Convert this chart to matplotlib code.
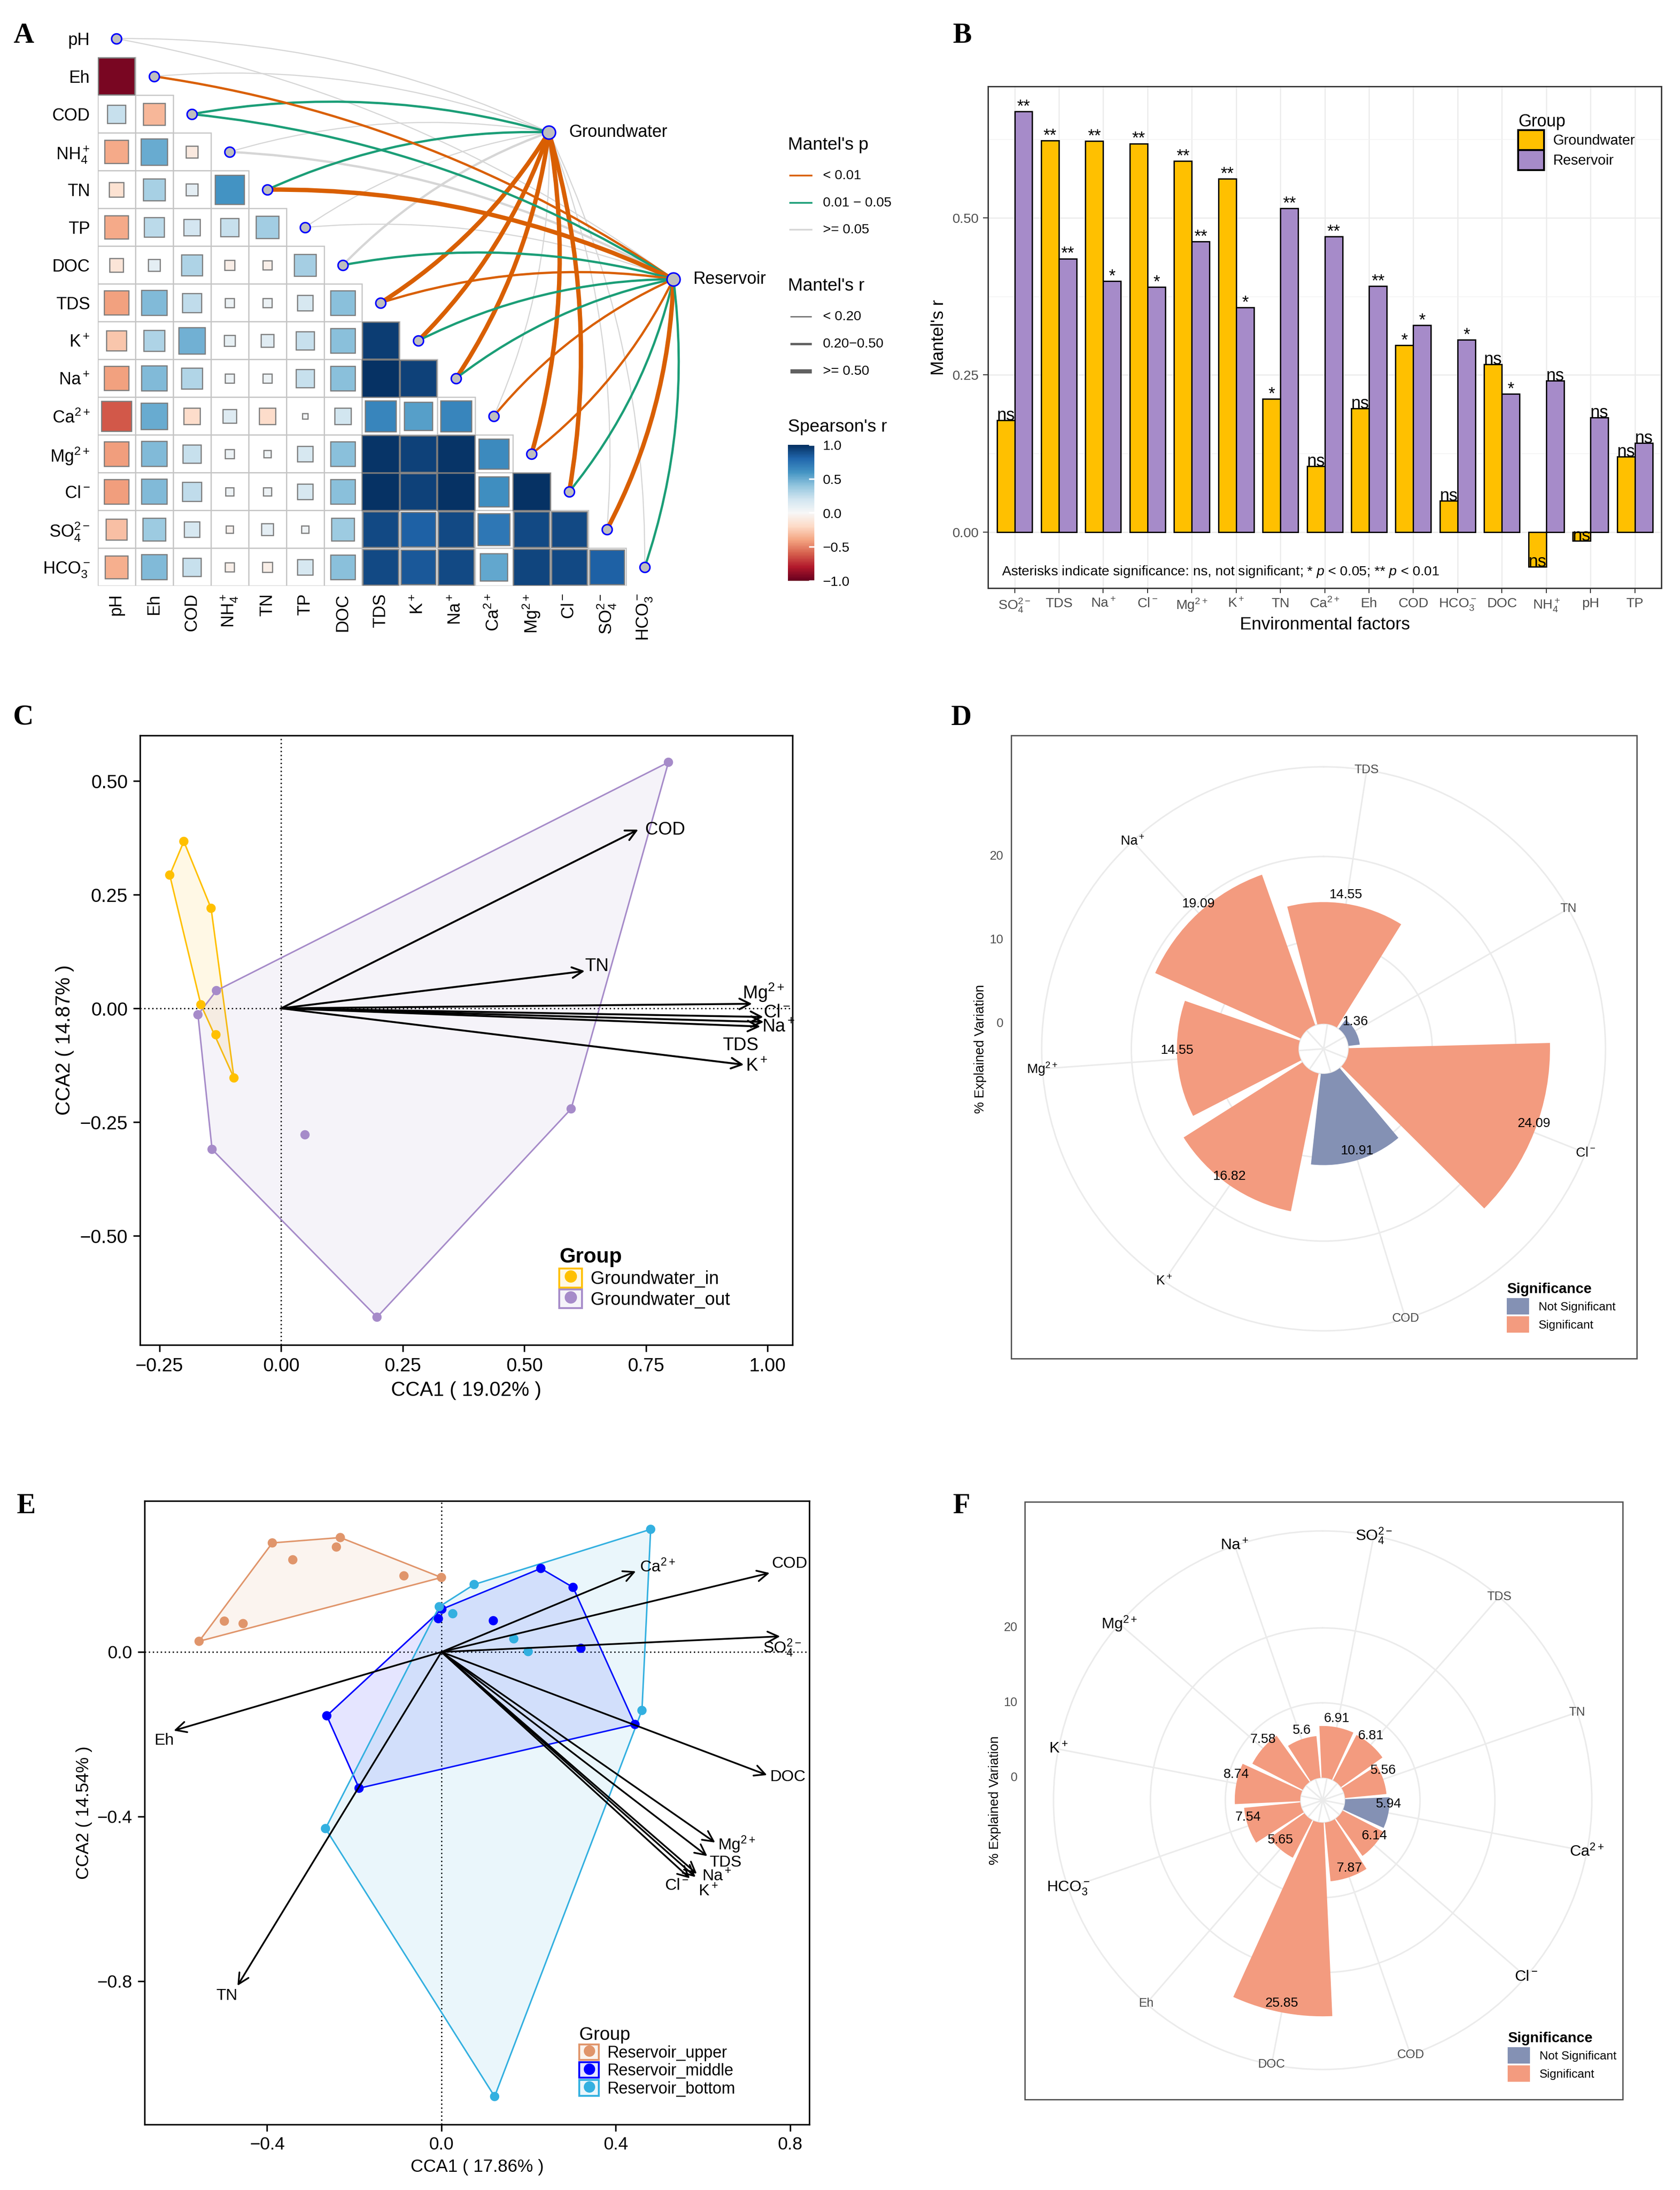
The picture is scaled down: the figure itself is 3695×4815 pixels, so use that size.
import numpy as np
import matplotlib
matplotlib.use('Agg')
import matplotlib.pyplot as plt
import matplotlib.colors as mcolors
from matplotlib.patches import Rectangle, Patch, PathPatch, Polygon
from matplotlib.path import Path
from matplotlib.lines import Line2D
from matplotlib.ticker import FuncFormatter, FixedLocator

plt.rcParams['font.family'] = ['Liberation Sans', 'DejaVu Sans']
plt.rcParams['mathtext.fontset'] = 'custom'
plt.rcParams['mathtext.rm'] = 'Liberation Sans'
plt.rcParams['mathtext.it'] = 'Liberation Sans:italic'
plt.rcParams['mathtext.bf'] = 'Liberation Sans:bold'
plt.rcParams['mathtext.sf'] = 'Liberation Sans'

W, H, DPI = 3695, 4815, 300

#**************** labels ****************#
tex = {'pH': 'pH', 'Eh': 'Eh', 'COD': 'COD', 'NH4': 'NH$_4^+$', 'TN': 'TN', 'TP': 'TP',
       'DOC': 'DOC', 'TDS': 'TDS', 'K': 'K$^+$', 'Na': 'Na$^+$', 'Ca': 'Ca$^{2+}$',
       'Mg': 'Mg$^{2+}$', 'Cl': 'Cl$^-$', 'SO4': 'SO$_4^{2-}$', 'HCO3': 'HCO$_3^-$'}

#**************** A: Spearman (lower triangle) ****************#
env_a = ['pH', 'Eh', 'COD', 'NH4', 'TN', 'TP', 'DOC', 'TDS', 'K', 'Na', 'Ca', 'Mg', 'Cl', 'SO4', 'HCO3']
spearman_rows = [
    [],
    [-0.95],
    [0.23, -0.33],
    [-0.38, 0.50, -0.10],
    [-0.15, 0.33, 0.10, 0.60],
    [-0.38, 0.27, 0.18, 0.23, 0.35],
    [-0.13, 0.10, 0.31, -0.07, -0.06, 0.34],
    [-0.41, 0.44, 0.25, 0.06, 0.06, 0.17, 0.42],
    [-0.28, 0.31, 0.48, 0.08, 0.12, 0.23, 0.42, 0.95],
    [-0.41, 0.44, 0.30, 0.06, 0.06, 0.23, 0.42, 0.99, 0.93],
    [-0.62, 0.50, -0.18, 0.13, -0.18, 0.02, 0.19, 0.66, 0.55, 0.66],
    [-0.42, 0.44, 0.23, 0.06, 0.04, 0.17, 0.42, 0.98, 0.93, 0.98, 0.64],
    [-0.42, 0.44, 0.25, 0.05, 0.05, 0.17, 0.42, 0.99, 0.93, 0.99, 0.62, 0.99],
    [-0.30, 0.36, 0.17, -0.04, 0.10, 0.04, 0.36, 0.90, 0.82, 0.90, 0.72, 0.90, 0.90],
    [-0.36, 0.44, 0.23, -0.06, -0.07, 0.17, 0.42, 0.90, 0.85, 0.90, 0.52, 0.92, 0.90, 0.82],
]

#**************** B: Mantel test ****************#
factors_b = ['SO4', 'TDS', 'Na', 'Cl', 'Mg', 'K', 'TN', 'Ca', 'Eh', 'COD', 'HCO3', 'DOC', 'NH4', 'pH', 'TP']
mantel_gw = [0.178, 0.623, 0.622, 0.618, 0.590, 0.562, 0.212, 0.105, 0.197, 0.297, 0.050, 0.267, -0.055, -0.014, 0.120]
mantel_res = [0.669, 0.435, 0.399, 0.390, 0.462, 0.357, 0.515, 0.470, 0.391, 0.329, 0.306, 0.220, 0.241, 0.182, 0.142]
sig_gw = ['ns', '**', '**', '**', '**', '**', '*', 'ns', 'ns', '*', 'ns', 'ns', 'ns', 'ns', 'ns']
sig_res = ['**', '**', '*', '*', '**', '*', '**', '**', '**', '*', '*', '*', 'ns', 'ns', 'ns']

#**************** C: CCA groundwater ****************#
gw_in_x = [-0.200, -0.229, -0.144, -0.165, -0.134, -0.097]
gw_in_y = [0.367, 0.293, 0.220, 0.008, -0.058, -0.153]
gw_out_x = [0.796, -0.133, -0.171, -0.142, 0.049, 0.596, 0.197]
gw_out_y = [0.541, 0.039, -0.014, -0.310, -0.278, -0.221, -0.679]
env_c = ['COD', 'TN', 'Mg', 'Cl', 'Na', 'TDS', 'K']
env_c_x = [0.734, 0.624, 0.968, 0.991, 0.992, 0.985, 0.951]
env_c_y = [0.393, 0.082, 0.010, -0.019, -0.030, -0.040, -0.124]

#**************** D: explained variation groundwater ****************#
env_d = ['Cl', 'COD', 'K', 'Mg', 'Na', 'TDS', 'TN']
var_d = [24.09, 10.91, 16.82, 14.55, 19.09, 14.55, 1.36]
sig_d = [True, False, True, True, True, True, False]

#**************** E: CCA reservoir ****************#
up_x = [-0.388, -0.232, -0.241, -0.341, -0.086, 0.000, -0.498, -0.455, -0.556]
up_y = [0.265, 0.278, 0.255, 0.224, 0.185, 0.181, 0.075, 0.069, 0.026]
mid_x = [0.228, 0.302, 0.001, -0.007, 0.119, 0.320, 0.444, -0.263, -0.189]
mid_y = [0.203, 0.157, 0.104, 0.081, 0.076, 0.009, -0.176, -0.155, -0.331]
bot_x = [0.480, 0.075, -0.005, 0.026, 0.166, 0.199, 0.460, -0.266, 0.122]
bot_y = [0.298, 0.164, 0.110, 0.093, 0.032, 0.001, -0.142, -0.429, -1.080]
env_e = ['Ca', 'COD', 'SO4', 'DOC', 'Mg', 'TDS', 'Na', 'K', 'Cl', 'Eh', 'TN']
env_e_x = [0.446, 0.753, 0.777, 0.747, 0.628, 0.610, 0.586, 0.583, 0.570, -0.614, -0.468]
env_e_y = [0.196, 0.192, 0.038, -0.299, -0.463, -0.496, -0.539, -0.547, -0.550, -0.191, -0.811]

#**************** F: explained variation reservoir ****************#
env_f = ['Ca', 'Cl', 'COD', 'DOC', 'Eh', 'HCO3', 'K', 'Mg', 'Na', 'SO4', 'TDS', 'TN']
var_f = [5.94, 6.14, 7.87, 25.85, 5.65, 7.54, 8.74, 7.58, 5.6, 6.91, 6.81, 5.56]
sig_f = [False, True, True, True, True, True, True, True, True, True, True, True]

# colours
c_gw, c_res = '#FFC000', '#A68BC9'
c_up, c_mid, c_bot = '#E0956B', '#0000FF', '#33B0E0'
c_ns, c_sig = '#8491B4', '#F39B7F'
p_cols = {'**': '#D95F02', '*': '#1B9E77', 'ns': '#D6D6D6'}

fig = plt.figure(figsize=((W + 0.1) / DPI, (H + 0.1) / DPI), dpi=DPI)


def box(x0, y0, x1, y1):
    return [x0 / W, 1 - y1 / H, (x1 - x0) / W, (y1 - y0) / H]


def fy(y):
    return 1 - y / H


def minus_fmt(fmt):
    return FuncFormatter(lambda v, p: (fmt % v).replace('-', '\u2212'))


def hull(xs, ys):
    pts = sorted(set(zip(xs, ys)))

    def cross(o, a, b):
        return (a[0] - o[0]) * (b[1] - o[1]) - (a[1] - o[1]) * (b[0] - o[0])
    lower, upper = [], []
    for p in pts:
        while len(lower) >= 2 and cross(lower[-2], lower[-1], p) <= 0:
            lower.pop()
        lower.append(p)
    for p in reversed(pts):
        while len(upper) >= 2 and cross(upper[-2], upper[-1], p) <= 0:
            upper.pop()
        upper.append(p)
    return lower[:-1] + upper[:-1]


def panel_letter(x, y, s):
    fig.text(x / W, fy(y), s, family='Liberation Serif', weight='bold', fontsize=15,
             ha='center', va='center')

#==================== A ====================#
CELL = 83
x_left, y_top = 256 - CELL / 2, 85 - CELL / 2
n_a = len(env_a)
ax_a = fig.add_axes(box(x_left, y_top, x_left + n_a * CELL, y_top + n_a * CELL))
ax_a.set_xlim(-0.5, n_a - 0.5)
ax_a.set_ylim(n_a - 0.5, -0.5)
cmap = plt.get_cmap('RdBu')
norm = mcolors.Normalize(-1, 1)
for r, row in enumerate(spearman_rows):
    for c, v in enumerate(row):
        ax_a.add_patch(Rectangle((c - 0.5, r - 0.5), 1, 1, fc='white', ec='#C4C4C4', lw=0.6, zorder=1))
        s = np.sqrt(abs(v))
        ax_a.add_patch(Rectangle((c - s / 2, r - s / 2), s, s, fc=cmap(norm(v)), ec='#7A7A7A',
                                 lw=0.6, zorder=2))
ax_a.set_xticks(range(n_a))
ax_a.set_xticklabels([tex[e] for e in env_a], rotation=90, fontsize=9)
ax_a.set_yticks(range(n_a))
ax_a.set_yticklabels([tex[e] for e in env_a], fontsize=9)
ax_a.tick_params(length=0, pad=4)
for sp in ax_a.spines.values():
    sp.set_visible(False)

nodes = {'Groundwater': (11.46, 2.48), 'Reservoir': (14.76, 6.37)}


def width_of(r):
    return 0.6 if r < 0.2 else (1.2 if r < 0.5 else 2.3)


def curve(p0, p1, color, lw, z):
    p0 = np.array(p0, float)
    p1 = np.array(p1, float)
    d = p1 - p0
    L = np.hypot(d[0], d[1])
    nv = np.array([-d[1], d[0]]) / L
    if nv @ np.array([1.0, -1.0]) < 0:
        nv = -nv
    ctrl = (p0 + p1) / 2 + 0.115 * L * nv
    ax_a.add_patch(PathPatch(Path([p0, ctrl, p1], [Path.MOVETO, Path.CURVE3, Path.CURVE3]),
                             fc='none', ec=color, lw=lw, zorder=z, clip_on=False))


for grp, vals, sigs in [('Groundwater', mantel_gw, sig_gw), ('Reservoir', mantel_res, sig_res)]:
    for i, e in enumerate(env_a):
        k = factors_b.index(e)
        z = 3 if sigs[k] == 'ns' else 4
        curve((i, i), nodes[grp], p_cols[sigs[k]], width_of(vals[k]), z)

ax_a.scatter(range(n_a), range(n_a), s=28, c='#BEBEBE', edgecolors='#0000FF', linewidths=0.8,
             zorder=6, clip_on=False)
for grp, (gx, gy) in nodes.items():
    ax_a.scatter([gx], [gy], s=48, c='#BEBEBE', edgecolors='#0000FF', linewidths=0.8, zorder=6,
                 clip_on=False)
    ax_a.annotate(grp, xy=(gx, gy), xytext=(10.5, 0), textcoords='offset points', ha='left',
                  va='center', fontsize=9, annotation_clip=False)

# legends of A
fig.text(1733 / W, fy(319), "Mantel's p", fontsize=9.4, va='center')
for yy, key, lab in [(386, '**', '< 0.01'), (446, '*', '0.01 \u2212 0.05'), (505, 'ns', '>= 0.05')]:
    fig.add_artist(Line2D([1738 / W, 1785 / W], [fy(yy), fy(yy)], color=p_cols[key], lw=0.9,
                          transform=fig.transFigure))
    fig.text(1810 / W, fy(yy), lab, fontsize=7.2, va='center')
fig.text(1733 / W, fy(629), "Mantel's r", fontsize=9.4, va='center')
for yy, lw, lab in [(696, 0.6, '< 0.20'), (756, 1.2, '0.20\u22120.50'), (816, 2.2, '>= 0.50')]:
    fig.add_artist(Line2D([1738 / W, 1785 / W], [fy(yy), fy(yy)], color='#606060', lw=lw,
                          transform=fig.transFigure, solid_capstyle='butt'))
    fig.text(1810 / W, fy(yy), lab, fontsize=7.2, va='center')
fig.text(1733 / W, fy(939), "Spearson's r", fontsize=9.4, va='center')
cax = fig.add_axes(box(1733, 978, 1791, 1277))
cb = fig.colorbar(plt.cm.ScalarMappable(norm=norm, cmap=cmap), cax=cax, ticks=[-1, -0.5, 0, 0.5, 1])
cb.set_ticklabels(['\u22121.0', '\u22120.5', '0.0', '0.5', '1.0'])
cb.outline.set_visible(False)
cax.tick_params(direction='in', length=3, color='white', width=0.8, labelsize=7.2, pad=4.5)

#==================== B ====================#
ax_b = fig.add_axes(box(2173, 190, 3654, 1293))
xb = np.arange(len(factors_b))
ax_b.bar(xb - 0.2, mantel_gw, 0.4, color=c_gw, ec='black', lw=0.7, zorder=3)
ax_b.bar(xb + 0.2, mantel_res, 0.4, color=c_res, ec='black', lw=0.7, zorder=3)
for xs, vals, sigs in [(xb - 0.2, mantel_gw, sig_gw), (xb + 0.2, mantel_res, sig_res)]:
    for x, v, s in zip(xs, vals, sigs):
        ax_b.text(x, v, s, ha='center', va='baseline', fontsize=9, zorder=4)
ax_b.set_xlim(-0.6, len(factors_b) - 0.4)
ax_b.set_ylim(-0.089, 0.709)
ax_b.set_xticks(xb)
ax_b.set_xticklabels([tex[f] for f in factors_b])
ax_b.set_yticks([0, 0.25, 0.5])
ax_b.yaxis.set_major_formatter(minus_fmt('%.2f'))
ax_b.yaxis.set_minor_locator(FixedLocator([0.125, 0.375, 0.625]))
ax_b.set_axisbelow(True)
ax_b.grid(True, which='major', color='#EBEBEB', lw=0.6)
ax_b.grid(True, which='minor', axis='y', color='#F2F2F2', lw=0.35)
ax_b.tick_params(which='major', labelsize=7.2, labelcolor='#4D4D4D', color='#333333', length=2.75,
                 width=0.5, pad=2)
ax_b.tick_params(which='minor', length=0)
for sp in ax_b.spines.values():
    sp.set_color('#333333')
    sp.set_linewidth(0.7)
ax_b.set_ylabel("Mantel's r", fontsize=9.3, labelpad=3)
ax_b.set_xlabel('Environmental factors', fontsize=9.3, labelpad=1.5)
ax_b.text(0.02, 0.033, 'Asterisks indicate significance: ns, not significant; * $p$ < 0.05; ** $p$ < 0.01',
          transform=ax_b.transAxes, fontsize=7.3, ha='left', va='center')
ax_b.legend(handles=[Patch(fc=c_gw, ec='black', lw=1.0), Patch(fc=c_res, ec='black', lw=1.0)],
            labels=['Groundwater', 'Reservoir'], title='Group', loc='upper left',
            bbox_to_anchor=(3339 / W, fy(250)), bbox_transform=fig.transFigure, frameon=False,
            fontsize=7.5, title_fontsize=9, alignment='left', handlelength=1.83, handleheight=1.79,
            labelspacing=0.0, handletextpad=0.6, borderpad=0, borderaxespad=0)

#==================== C and E (CCA) ====================#


def cca_panel(ax, groups, env, ex, ey, offs, fs_lab, arrow_lw):
    for xs, ys, col in groups:
        h = hull(xs, ys)
        ax.add_patch(Polygon(h, closed=True, fc=mcolors.to_rgba(col, 0.1), ec=col, lw=0.8, zorder=2))
    for xs, ys, col in groups:
        ax.scatter(xs, ys, s=24, color=col, edgecolors='none', zorder=3)
    ax.axvline(0, color='black', ls=(0, (1, 2)), lw=0.7, zorder=1)
    ax.axhline(0, color='black', ls=(0, (1, 2)), lw=0.7, zorder=1)
    for e, x, y in zip(env, ex, ey):
        ax.annotate('', xy=(x, y), xytext=(0, 0),
                    arrowprops=dict(arrowstyle='->,head_length=0.4,head_width=0.2', lw=arrow_lw,
                                    color='black', shrinkA=0, shrinkB=0, mutation_scale=14), zorder=4)
        ha, dx, dy = offs[e]
        ax.annotate(tex[e], xy=(x, y), xytext=(dx, dy), textcoords='offset points', ha=ha,
                    va='center', fontsize=fs_lab, zorder=5)
    for sp in ax.spines.values():
        sp.set_color('black')
        sp.set_linewidth(0.8)


panel_letter(52, 79, 'A')
panel_letter(2117, 79, 'B')
panel_letter(52, 1577, 'C')
panel_letter(2114, 1579, 'D')
panel_letter(58, 3312, 'E')
panel_letter(2115, 3312, 'F')

ax_c = fig.add_axes(box(308, 1617, 1743, 2957))
offs_c = {'COD': ('left', 3.6, 0), 'TN': ('left', 0, 2.7), 'Mg': ('left', -5, 6.1),
          'Cl': ('left', 0, 2.4), 'Na': ('left', -1, -2.6), 'TDS': ('right', -1, -9.8),
          'K': ('left', 1, -0.7)}
cca_panel(ax_c, [(gw_in_x, gw_in_y, c_gw), (gw_out_x, gw_out_y, c_res)], env_c, env_c_x, env_c_y,
          offs_c, 9.5, 1.0)
ax_c.set_xlim(-0.290, 1.051)
ax_c.set_ylim(-0.740, 0.600)
ax_c.set_xticks([-0.25, 0, 0.25, 0.5, 0.75, 1.0])
ax_c.set_yticks([-0.5, -0.25, 0, 0.25, 0.5])
ax_c.xaxis.set_major_formatter(minus_fmt('%.2f'))
ax_c.yaxis.set_major_formatter(minus_fmt('%.2f'))
ax_c.tick_params(labelsize=10, length=3.5, width=0.8, color='black', pad=3)
ax_c.set_xlabel('CCA1 ( 19.02% )', fontsize=10.5, labelpad=3)
ax_c.set_ylabel('CCA2 ( 14.87% )', fontsize=10.5, labelpad=3)
ax_c.legend(handles=[(Patch(fc=mcolors.to_rgba(c_gw, 0.1), ec=c_gw, lw=1.0),
                      Line2D([], [], marker='o', ls='', color=c_gw, markersize=5.5)),
                     (Patch(fc=mcolors.to_rgba(c_res, 0.1), ec=c_res, lw=1.0),
                      Line2D([], [], marker='o', ls='', color=c_res, markersize=5.5))],
            labels=['Groundwater_in', 'Groundwater_out'], title='Group', loc='upper left',
            bbox_to_anchor=(1230 / W, fy(2742)), bbox_transform=fig.transFigure, frameon=False,
            fontsize=9.5, title_fontproperties={'weight': 'bold', 'size': 11}, alignment='left',
            handlelength=1.25, handleheight=1.25, labelspacing=0.08, handletextpad=0.5,
            borderpad=0, borderaxespad=0)

ax_e = fig.add_axes(box(318, 3300, 1780, 4671))
offs_e = {'Ca': ('left', 2, 2.5), 'COD': ('left', 1, 5), 'SO4': ('left', -9, -6),
          'DOC': ('left', 1.4, -1), 'Mg': ('left', 1.4, -1), 'TDS': ('left', 1, -3.2),
          'Na': ('left', 2.8, -1.2), 'K': ('left', 1.4, -7.4), 'Cl': ('right', -0.5, -3.7),
          'Eh': ('right', 0, -5.2), 'TN': ('right', 0, -5.2)}
cca_panel(ax_e, [(up_x, up_y, c_up), (mid_x, mid_y, c_mid), (bot_x, bot_y, c_bot)], env_e, env_e_x,
          env_e_y, offs_e, 8.5, 0.9)
ax_e.set_xlim(-0.681, 0.844)
ax_e.set_ylim(-1.148, 0.367)
ax_e.set_xticks([-0.4, 0, 0.4, 0.8])
ax_e.set_yticks([-0.8, -0.4, 0])
ax_e.xaxis.set_major_formatter(minus_fmt('%.1f'))
ax_e.yaxis.set_major_formatter(minus_fmt('%.1f'))
ax_e.tick_params(labelsize=9.4, length=3.5, width=0.8, color='black', pad=3)
ax_e.set_xlabel('CCA1 ( 17.86% )', fontsize=9.3, labelpad=3)
ax_e.set_ylabel('CCA2 ( 14.54% )', fontsize=9.3, labelpad=2.5)
ax_e.legend(handles=[(Patch(fc=mcolors.to_rgba(c, 0.1), ec=c, lw=1.0),
                      Line2D([], [], marker='o', ls='', color=c, markersize=5))
                     for c in (c_up, c_mid, c_bot)],
            labels=['Reservoir_upper', 'Reservoir_middle', 'Reservoir_bottom'], title='Group',
            loc='upper left', bbox_to_anchor=(1274 / W, fy(4455)), bbox_transform=fig.transFigure,
            frameon=False, fontsize=8.6, title_fontsize=9.7, alignment='left', handlelength=1.2,
            handleheight=1.1, labelspacing=0.05, handletextpad=0.5, borderpad=0, borderaxespad=0)

#==================== D and F (polar bars) ====================#


def polar_panel(cx, cy, R, names, vals, sigs, ylab_x, ytitle_x, frame, leg_xy, ion_fs):
    ax = fig.add_axes(box(cx - R, cy - R, cx + R, cy + R), projection='polar')
    ax.set_theta_zero_location('N')
    ax.set_theta_direction(-1)
    n = len(names)
    step = 2 * np.pi / n
    theta = 1.5 + (np.arange(n) + 0.5) * step
    rtop = 1.12 * max(vals)
    outer = -3 + 1.125 * (rtop + 3)
    ax.set_ylim(-3, outer)
    ax.bar(theta, vals, width=0.9 * step, bottom=0, color=[c_sig if s else c_ns for s in sigs],
           edgecolor='none', zorder=3)
    ax.set_xticks(theta % (2 * np.pi))
    ax.set_xticklabels([])
    ax.set_yticks([0, 10, 20])
    ax.set_yticklabels([])
    ax.grid(True, color='#EBEBEB', lw=0.8)
    ax.tick_params(length=0)
    ax.spines['polar'].set_edgecolor('#EBEBEB')
    ax.spines['polar'].set_linewidth(0.8)
    for th, v in zip(theta, vals):
        ax.annotate(f'{v:g}', xy=(th, v), xytext=(0, 1.5), textcoords='offset points', ha='center',
                    va='bottom', fontsize=7, zorder=5)
    for th, e in zip(theta, names):
        ion = tex[e] != e
        ax.text(th, outer, tex[e], ha='center', va='center', fontsize=ion_fs if ion else 6.5,
                color='black' if ion else '#4D4D4D', clip_on=False, zorder=6)
    inv = fig.transFigure.inverted()
    for v in [0, 10, 20]:
        p = inv.transform(ax.transData.transform((0, v)))
        fig.text(ylab_x / W, p[1], str(v), ha='right', va='center', fontsize=6.5, color='#4D4D4D')
    fig.text(ytitle_x / W, fy(cy), '% Explained Variation', rotation=90, ha='center', va='center',
             fontsize=7)
    x0, y0, x1, y1 = frame
    fig.add_artist(Rectangle((x0 / W, fy(y1)), (x1 - x0) / W, (y1 - y0) / H, transform=fig.transFigure,
                             fill=False, ec='#555555', lw=0.7))
    fig.legend(handles=[Patch(fc=c_ns), Patch(fc=c_sig)], labels=['Not Significant', 'Significant'],
               title='Significance', loc='upper left', bbox_to_anchor=(leg_xy[0] / W, fy(leg_xy[1])),
               frameon=False, fontsize=6.3, title_fontproperties={'weight': 'bold', 'size': 7.6},
               alignment='left', handlelength=1.85, handleheight=1.75, labelspacing=0.15,
               handletextpad=0.8, borderpad=0, borderaxespad=0)
    return ax


polar_panel(2911, 2306, 620, env_d, var_d, sig_d, 2207, 2156, (2224, 1617, 3600, 2987), (3314, 2820),
            7.0)
polar_panel(2909, 3958, 592, env_f, var_f, sig_f, 2238, 2188, (2254, 3302, 3569, 4616), (3316, 4467),
            8.2)

fig.savefig('out.png', dpi=DPI)
